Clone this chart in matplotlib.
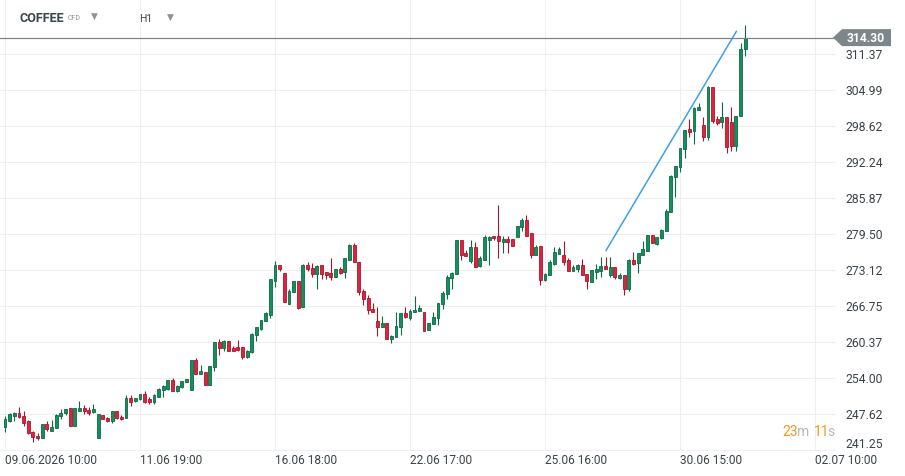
import matplotlib
matplotlib.use("Agg")
import matplotlib.pyplot as plt
from matplotlib.patches import Polygon
from matplotlib.transforms import IdentityTransform, blended_transform_factory
import numpy as np

plt.rcParams['font.family'] = ['Roboto', 'DejaVu Sans']

# hourly candles
opens = [245.32, 246.50, 247.27, 247.86, 247.27, 246.50, 244.49, 243.84, 243.37, 245.91,
         244.73, 245.14, 247.21, 247.80, 248.74, 245.61, 248.27, 248.74, 248.39, 247.97,
         243.37, 247.56, 246.97, 246.50, 248.15, 247.09, 246.91, 250.52, 249.93, 250.22,
         251.16, 250.34, 249.86, 250.75, 251.99, 252.11, 253.70, 251.81, 252.40, 253.29,
         251.99, 257.24, 254.65, 255.06, 252.70, 255.95, 260.37, 259.37, 260.55, 259.37,
         259.48, 259.48, 257.71, 258.60, 261.56, 262.74, 264.04, 265.22, 271.12, 274.07,
         272.65, 267.16, 269.23, 271.18, 266.52, 274.07, 273.54, 272.36, 274.07, 272.83,
         272.65, 272.00, 273.36, 272.71, 275.01, 277.49, 274.65, 269.52, 268.23, 266.28,
         264.10, 263.03, 263.74, 260.91, 261.26, 263.03, 265.51, 264.69, 265.69, 265.87,
         265.69, 262.44, 263.51, 264.63, 267.05, 268.82, 271.71, 272.41, 278.49, 276.13,
         274.66, 277.19, 273.83, 275.01, 278.54, 279.25, 279.13, 278.19, 278.66, 278.66,
         278.96, 280.73, 282.03, 279.72, 275.89, 277.37, 271.41, 272.18, 274.24, 276.01,
         275.72, 274.95, 273.06, 273.36, 274.06, 272.47, 271.11, 272.88, 273.00, 273.83,
         272.18, 273.65, 271.82, 272.29, 269.82, 275.01, 274.36, 275.83, 276.60, 279.31,
         277.78, 278.78, 280.02, 283.39, 289.59, 291.36, 294.60, 298.15, 297.73, 301.57,
         298.85, 296.67, 305.53, 299.92, 299.33, 300.21, 299.44, 295.19, 300.39, 312.20]
highs = [247.38, 247.80, 248.03, 248.86, 248.15, 246.62, 244.73, 244.26, 245.91, 246.50,
         246.62, 247.68, 248.57, 248.62, 248.74, 248.74, 250.04, 249.27, 248.86, 249.45,
         247.68, 247.56, 247.09, 248.27, 248.15, 247.50, 251.04, 250.93, 250.52, 251.22,
         251.75, 250.63, 251.22, 252.23, 252.70, 253.70, 254.00, 252.70, 253.58, 253.88,
         257.24, 257.60, 256.36, 255.06, 256.12, 260.37, 260.96, 260.78, 260.55, 259.66,
         260.78, 259.48, 259.00, 261.95, 263.04, 264.33, 265.69, 271.59, 274.77, 274.07,
         272.65, 269.82, 271.18, 271.18, 274.24, 274.54, 274.42, 273.95, 274.07, 272.83,
         275.30, 273.36, 273.65, 275.30, 277.78, 277.96, 274.65, 269.82, 268.76, 267.28,
         266.58, 264.98, 263.74, 261.68, 265.69, 265.51, 266.58, 266.28, 268.46, 266.87,
         265.69, 263.74, 265.69, 267.28, 269.52, 272.30, 272.77, 278.55, 278.49, 276.72,
         278.49, 278.19, 275.60, 279.37, 279.25, 279.25, 284.68, 279.13, 279.13, 278.66,
         280.91, 282.32, 282.91, 279.72, 277.66, 277.37, 272.65, 274.95, 277.19, 277.19,
         278.25, 275.24, 274.06, 274.24, 275.13, 272.47, 273.18, 274.24, 275.54, 275.54,
         275.42, 273.77, 272.58, 272.29, 275.13, 276.30, 276.19, 278.37, 279.31, 279.31,
         279.08, 280.49, 283.97, 290.00, 291.53, 294.72, 297.97, 299.92, 301.98, 302.69,
         300.21, 305.82, 305.53, 300.39, 302.87, 300.21, 301.98, 300.51, 313.38, 316.56]
lows = [244.43, 246.26, 246.50, 246.97, 245.61, 244.14, 242.67, 243.08, 243.37, 244.73,
        244.61, 245.14, 246.79, 247.50, 245.61, 245.61, 248.15, 247.68, 247.56, 247.86,
        243.37, 246.68, 246.26, 246.03, 246.85, 246.62, 246.91, 249.04, 249.86, 250.16,
        249.63, 249.45, 249.34, 250.63, 250.75, 251.99, 251.81, 251.52, 252.29, 253.29,
        251.99, 254.65, 254.65, 252.70, 252.70, 255.18, 258.18, 258.72, 258.78, 258.72,
        258.72, 257.42, 257.50, 258.50, 260.50, 262.44, 264.04, 264.69, 270.12, 273.06,
        267.46, 267.16, 269.23, 266.28, 266.52, 272.90, 271.89, 269.70, 271.47, 271.47,
        271.30, 271.89, 272.36, 271.71, 275.01, 274.65, 268.76, 266.87, 265.39, 265.69,
        261.44, 263.03, 260.97, 260.20, 261.26, 261.56, 264.63, 264.22, 265.69, 265.87,
        262.27, 262.44, 263.51, 263.33, 266.28, 268.05, 269.70, 272.41, 275.01, 275.60,
        274.42, 273.77, 273.65, 275.01, 274.12, 278.54, 275.36, 276.13, 276.19, 277.48,
        278.96, 280.02, 279.25, 275.30, 275.72, 270.58, 271.17, 272.18, 274.12, 276.01,
        274.12, 272.94, 272.94, 272.77, 272.18, 269.82, 271.11, 271.59, 271.88, 273.41,
        272.00, 271.59, 271.59, 268.81, 269.52, 274.12, 272.65, 275.83, 276.48, 277.90,
        277.66, 278.66, 280.02, 283.39, 286.16, 290.47, 292.95, 296.67, 295.49, 301.57,
        296.08, 296.26, 299.15, 298.91, 298.26, 293.84, 294.31, 294.31, 300.39, 311.01]
closes = [246.79, 247.68, 247.86, 247.09, 246.03, 244.26, 243.55, 243.37, 245.91, 244.91,
          245.32, 247.50, 247.86, 248.51, 245.61, 248.74, 248.68, 248.27, 247.91, 248.57,
          247.68, 246.85, 246.38, 248.27, 246.97, 246.74, 250.45, 249.75, 250.46, 251.16,
          249.86, 249.86, 251.05, 252.05, 252.58, 253.70, 251.81, 252.58, 253.41, 253.88,
          257.24, 254.65, 255.18, 252.70, 256.12, 260.37, 259.37, 260.55, 258.89, 258.89,
          259.01, 257.71, 258.88, 261.84, 263.04, 264.33, 265.57, 271.47, 274.07, 273.36,
          267.46, 269.35, 271.18, 266.40, 274.07, 273.36, 272.36, 273.83, 272.36, 272.18,
          272.00, 273.36, 272.65, 275.30, 277.49, 274.65, 269.23, 267.93, 265.98, 265.69,
          263.03, 263.74, 260.97, 261.50, 263.21, 265.51, 264.81, 265.87, 266.10, 266.46,
          262.38, 263.74, 264.81, 267.28, 269.05, 271.88, 272.59, 278.55, 275.89, 275.60,
          277.19, 273.77, 275.25, 278.96, 279.08, 278.78, 278.37, 278.66, 278.19, 277.48,
          280.91, 282.03, 279.25, 275.72, 277.31, 271.41, 272.47, 274.53, 276.30, 276.89,
          274.65, 273.06, 273.65, 274.06, 272.18, 271.29, 273.18, 273.36, 273.94, 273.41,
          273.77, 271.88, 272.29, 269.82, 275.01, 274.24, 276.19, 276.89, 279.31, 277.90,
          279.08, 280.31, 283.68, 289.88, 291.53, 294.72, 297.97, 297.67, 301.81, 302.04,
          296.67, 305.53, 299.62, 299.15, 300.21, 295.02, 295.08, 300.51, 312.20, 314.30]

price_ticks = [311.37, 304.99, 298.62, 292.24, 285.87, 279.50, 273.12,
               266.75, 260.37, 254.00, 247.62, 241.25]
time_pos = [0, 29, 58, 87, 116, 145, 174]
time_labels = ["09.06.2026 10:00", "11.06 19:00", "16.06 18:00", "22.06 17:00",
               "25.06 16:00", "30.06 15:00", "02.07 10:00"]
trend_x = [129.1, 157.1]
trend_y = [276.6, 315.4]
last_price = 314.30

W, H = 905, 477
fig = plt.figure(figsize=(W / 100, H / 100), dpi=100)
fig.patch.set_facecolor('white')
ax = fig.add_axes([0, 1 - 452 / H, 836 / W, 452 / H])
ax.set_xlim(-1.07, 178.5)
ax.set_ylim(241.1, 321.14)
for s in ax.spines.values():
    s.set_visible(False)
ax.set_xticks(time_pos)
ax.set_yticks(price_ticks)
ax.tick_params(length=0, labelbottom=False, labelleft=False)
ax.grid(True, color='#efefef', lw=0.8)
ax.set_axisbelow(True)

o = np.array(opens)
c = np.array(closes)
x = np.arange(len(o))
up = c >= o
face = np.where(up, '#15905d', '#e2213c')
edge = np.where(up, '#0c6a44', '#a9162b')
ax.vlines(x, lows, highs, colors=edge, lw=0.8, zorder=2)
body = np.maximum(np.abs(c - o), 0.12)
ax.bar(x, body, bottom=np.minimum(o, c), width=0.62, color=face,
       edgecolor=edge, linewidth=0.6, zorder=3)

ax.plot(trend_x, trend_y, color='#3ea0ec', lw=1.1, zorder=4)
ax.axhline(last_price, color='#7b8489', lw=0.9, zorder=4)

# price labels on the right
ty = blended_transform_factory(fig.transFigure, ax.transData)
for v in price_ticks[:-1]:
    fig.text(845 / W, v, f"{v:.2f}", transform=ty, fontsize=8.7,
             color='#3a4247', va='center', ha='left')
fig.text(845 / W, price_ticks[-1], f"{price_ticks[-1]:.2f}", transform=ty,
         fontsize=8.7, color='#3a4247', va='bottom', ha='left')

# current price tag
yd = ax.transData.transform((0, last_price))[1]
tag = Polygon([(833, yd), (842, yd + 8.5), (891, yd + 8.5), (891, yd - 8.5), (842, yd - 8.5)],
              closed=True, facecolor='#7d8689', edgecolor='none',
              transform=IdentityTransform(), zorder=5)
fig.patches.append(tag)
fig.text(866 / W, yd / H, f"{last_price:.2f}", fontsize=8.7, color='white',
         fontweight='bold', ha='center', va='center', zorder=6)

# time labels
tx = blended_transform_factory(ax.transData, fig.transFigure)
for p, lab in zip(time_pos, time_labels):
    fig.text(p, 1 - 461 / H, lab, transform=tx, fontsize=8.6, color='#3a4247',
             ha='left', va='center')

# countdown, pieces chained left to right
rend = fig.canvas.get_renderer()
xp = 782
for s, col, gap in [("23", '#f7941d', -0.5), ("m", '#b5b9bc', 4.5), ("11", '#f7941d', -1.5),
                    ("s", '#b5b9bc', 0)]:
    t = fig.text(xp / W, 1 - 432 / H, s, fontsize=10, color=col, ha='left', va='center')
    xp = t.get_window_extent(rend).x1 + gap

# header
fig.text(20 / W, 1 - 18 / H, "COFFEE", fontsize=9.1, fontweight='bold', color='#37474f',
         ha='left', va='center', bbox=dict(facecolor='white', edgecolor='none', pad=1))
fig.text(68 / W, 1 - 19 / H, "CFD", fontsize=5, color='#8a9399', ha='left', va='center')
fig.text(94 / W, 1 - 16.5 / H, "▼", fontsize=6.5, color='#8a9399', ha='center', va='center')
fig.text(139 / W, 1 - 19 / H, "H1", fontsize=7.5, color='#37474f', ha='left', va='center',
         bbox=dict(facecolor='white', edgecolor='none', pad=2))
fig.text(170 / W, 1 - 17 / H, "▼", fontsize=6.5, color='#8a9399', ha='center', va='center')

fig.savefig("out.png", dpi=100)
